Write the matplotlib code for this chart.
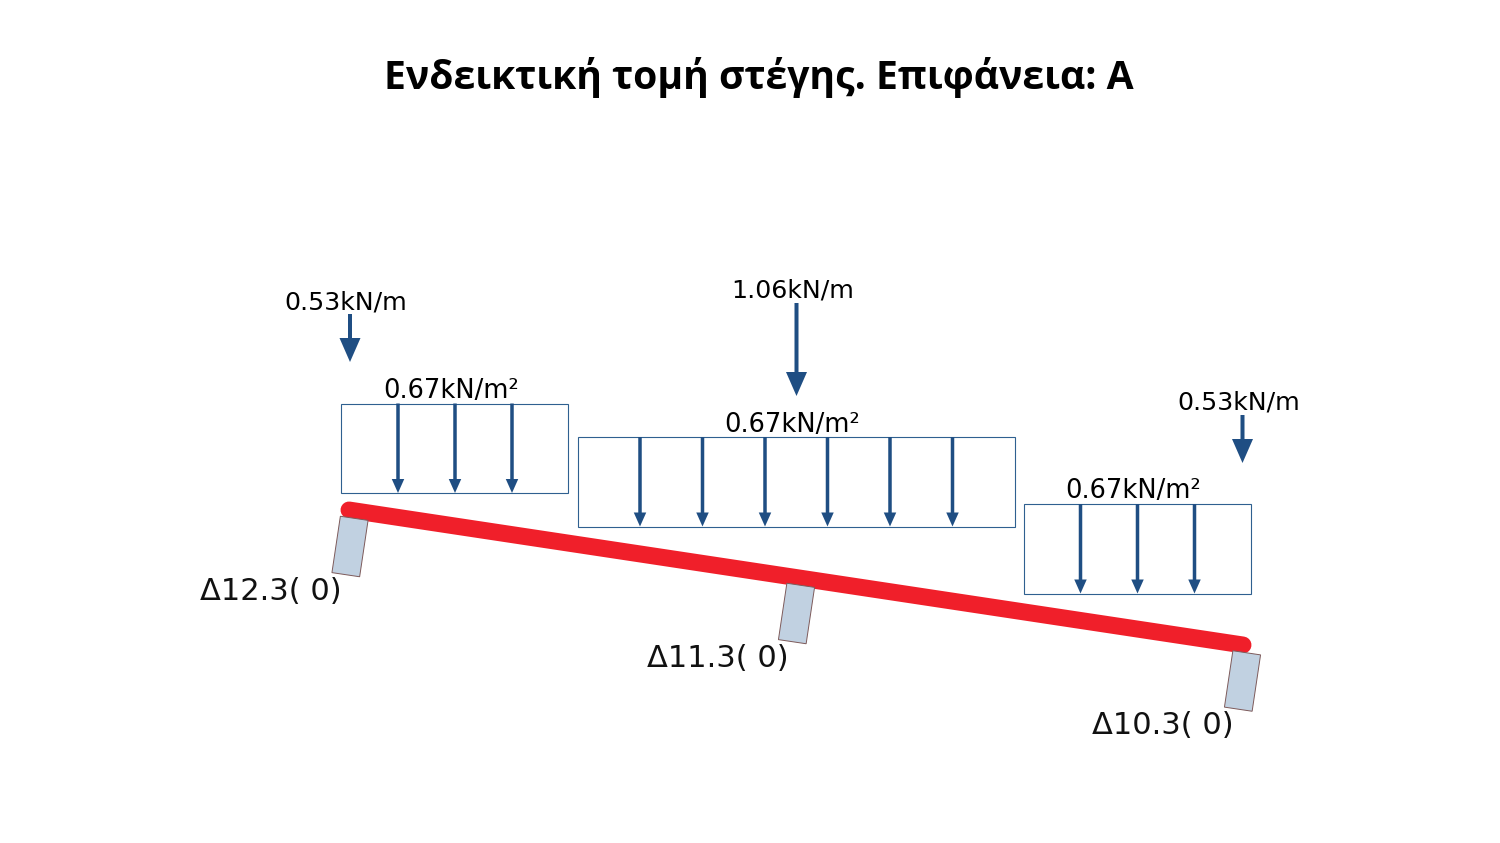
import numpy as np
import matplotlib
matplotlib.use('Agg')
import matplotlib.pyplot as plt
from matplotlib.patches import Polygon, Rectangle

title = 'Ενδεικτική τομή στέγης. Επιφάνεια: Α'

# beam ends, pixels of the reference
beam_x = [349, 1243]
beam_y = [510, 645]

# supports
support_x = [350, 796.5, 1242.5]
support_y = [546.5, 613.5, 681]
support_labels = ['Δ12.3( 0)', 'Δ11.3( 0)', 'Δ10.3( 0)']
support_label_x = [271, 718, 1163]
support_label_y = [591.5, 658.5, 725.5]

# distributed loads
area_left = [340.5, 577.5, 1023.5]
area_right = [568, 1014.5, 1251]
area_top = [403.5, 437, 504]
area_bottom = [493, 526.5, 593.5]
area_labels = ['0.67kN/m²', '0.67kN/m²', '0.67kN/m²']
area_label_x = [451.5, 792.5, 1133.5]
area_arrows = [[398, 455, 512],
               [640, 702.5, 765, 827.5, 890, 952.5],
               [1080.5, 1137.5, 1194.5]]

# line loads
line_x = [350, 796.5, 1242.5]
line_top = [314, 303, 415]
line_bottom = [362, 396, 463]
line_labels = ['0.53kN/m', '1.06kN/m', '0.53kN/m']
line_label_x = [346, 793, 1238.5]
line_label_y = [302, 291, 402.5]

blue = '#1f4e83'
edge = '#2f6090'

fig = plt.figure(figsize=(15, 8.43), dpi=100)
ax = fig.add_axes([0, 0, 1, 1])
ax.set_xlim(0, 1500)
ax.set_ylim(843, 0)
ax.axis('off')

ax.text(758.5, 77.5, title, ha='center', va='center', fontsize=28.2, fontweight='bold',
        family='Open Sans', color='black')

# supports go over the beam
ang = np.radians(8.5)
ux, uy = np.cos(ang), np.sin(ang)
vx, vy = -np.sin(ang), np.cos(ang)
w, h = 14, 28.5
ax.plot(beam_x, beam_y, color='#f01f2a', lw=12.2, solid_capstyle='round', zorder=2)
for cx, cy in zip(support_x, support_y):
    pts = [(cx - w*ux - h*vx, cy - w*uy - h*vy),
           (cx + w*ux - h*vx, cy + w*uy - h*vy),
           (cx + w*ux + h*vx, cy + w*uy + h*vy),
           (cx - w*ux + h*vx, cy - w*uy + h*vy)]
    ax.add_patch(Polygon(pts, closed=True, facecolor='#c1d1e1', edgecolor='#7d5a5a',
                         lw=0.7, zorder=3))
for x, y, s in zip(support_label_x, support_label_y, support_labels):
    ax.text(x, y, s, ha='center', va='center', fontsize=22, color='#111111')

# area loads
for i in range(3):
    ax.add_patch(Rectangle((area_left[i], area_top[i]), area_right[i] - area_left[i],
                           area_bottom[i] - area_top[i], fill=False, edgecolor=edge, lw=0.8, zorder=1))
    ax.text(area_label_x[i], area_top[i] - 12.5, area_labels[i], ha='center', va='center',
            fontsize=18.5, color='black')
    for x in area_arrows[i]:
        ax.arrow(x, area_top[i], 0, area_bottom[i] - area_top[i], width=3.5, head_width=12.5,
                 head_length=14, length_includes_head=True, color=blue, lw=0, zorder=4)

# line loads
for i in range(3):
    ax.arrow(line_x[i], line_top[i], 0, line_bottom[i] - line_top[i], width=4, head_width=21,
             head_length=24, length_includes_head=True, color=blue, lw=0, zorder=4)
    ax.text(line_label_x[i], line_label_y[i], line_labels[i], ha='center', va='center',
            fontsize=18.2, color='black')

fig.savefig('out.png', dpi=100, facecolor='white')
